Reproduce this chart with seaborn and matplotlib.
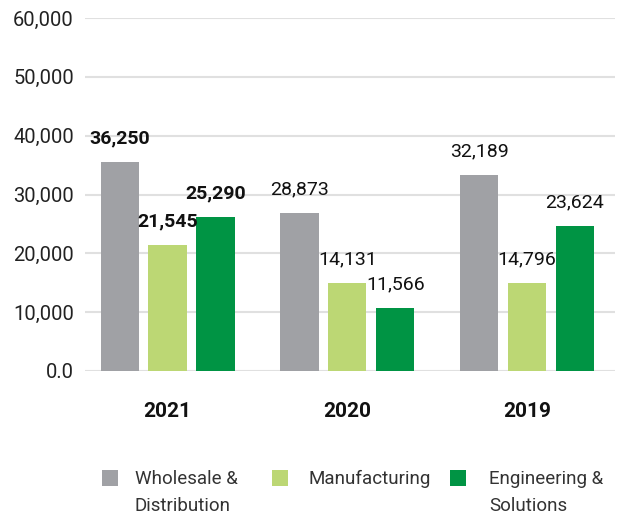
import matplotlib
matplotlib.use("Agg")
import matplotlib.pyplot as plt
from matplotlib.patches import Rectangle
import seaborn as sns
import pandas as pd

years = ["2021", "2020", "2019"]
segments = ["Wholesale &\nDistribution", "Manufacturing", "Engineering &\nSolutions"]
wholesale = [35500, 26800, 33300]
manufacturing = [21400, 14900, 14900]
engineering = [26100, 10650, 24600]
wholesale_labels = ["36,250", "28,873", "32,189"]
manufacturing_labels = ["21,545", "14,131", "14,796"]
engineering_labels = ["25,290", "11,566", "23,624"]
ytick_values = [0, 10000, 20000, 30000, 40000, 50000, 60000]
ytick_labels = ["0.0", "10,000", "20,000", "30,000", "40,000", "50,000", "60,000"]
colors = ["#a0a1a5", "#bcd774", "#009444"]

sns.set_theme(style="white")
plt.rcParams["font.family"] = ["Roboto", "DejaVu Sans"]

rows = []
for seg, vals, labs in zip(segments, [wholesale, manufacturing, engineering],
                           [wholesale_labels, manufacturing_labels, engineering_labels]):
    for y, v, l in zip(years, vals, labs):
        rows.append({"year": y, "segment": seg, "value": v, "label": l})
df = pd.DataFrame(rows)

W, H = 622, 519
fig = plt.figure(figsize=(W / 100, H / 100), dpi=100)
ax = fig.add_axes([85 / W, 1 - 371 / H, 530 / W, 353 / H])
sns.barplot(data=df, x="year", y="value", hue="segment", order=years,
            hue_order=segments, palette=colors, width=0.8, gap=0.2,
            errorbar=None, legend=False, ax=ax, saturation=1,
            edgecolor="none", linewidth=0)

ax.set_ylim(0, 60000)
ax.set_xlim(-0.46, 2.49)
ax.set_yticks(ytick_values)
ax.set_yticklabels(ytick_labels, fontsize=14.5, color="#222222")
ax.yaxis.grid(True, color="#e0e0e0", linewidth=1.5)
ax.set_axisbelow(True)
for s in ax.spines.values():
    s.set_visible(False)
ax.tick_params(axis="y", length=0, pad=8)
ax.tick_params(axis="x", length=0, pad=22)
ax.set_xticks(range(len(years)))
ax.set_xticklabels(years, fontsize=15, fontweight="bold", color="#111111")
ax.set_xlabel("")
ax.set_ylabel("")

label_sets = [wholesale_labels, manufacturing_labels, engineering_labels]
for cont, labs in zip(ax.containers, label_sets):
    for i, (bar, lab) in enumerate(zip(cont, labs)):
        x = bar.get_x() + bar.get_width() / 2
        h = bar.get_height()
        ax.annotate(lab, (x, h), xytext=(0, 17), textcoords="offset points",
                    ha="center", va="center", fontsize=14,
                    fontweight="bold" if i == 0 else "normal", color="#111111")

# legend (square aligned with first text line)
legend_square_x = [102, 272, 450]
legend_text_x = [135, 309, 489]
for sx, tx, c, seg in zip(legend_square_x, legend_text_x, colors, segments):
    fig.patches.append(Rectangle((sx / W, 1 - 486 / H), 16 / W, 16 / H,
                                 transform=fig.transFigure, facecolor=c,
                                 edgecolor="none"))
    fig.text(tx / W, 1 - 470 / H, seg, ha="left", va="top", fontsize=13.5,
             color="#333333", linespacing=1.65)

fig.savefig("out.png", dpi=100)
